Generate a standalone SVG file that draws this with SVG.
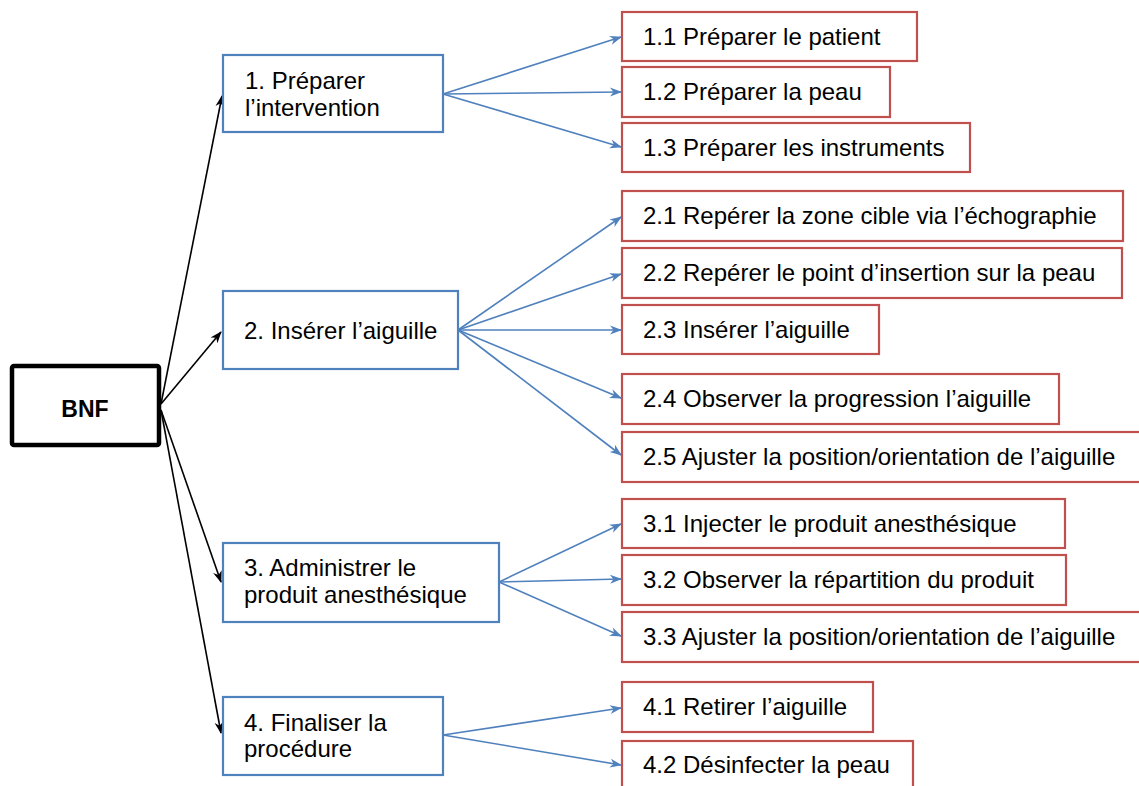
<svg xmlns="http://www.w3.org/2000/svg" width="1139" height="786" viewBox="0 0 1139 786">
<style>
text{font-family:"Liberation Sans",Arial,sans-serif;font-size:24px;fill:#000}
.bnf{font-weight:bold;font-size:23px}
.root{fill:#fff;stroke:#000;stroke-width:4.5}
.par{fill:#fff;stroke:#4F81BD;stroke-width:2.2}
.ch{fill:#fff;stroke:#C0504D;stroke-width:2.2}
.k{stroke:#000;stroke-width:1.6;fill:none;marker-end:url(#ak)}
.b{stroke:#4F81BD;stroke-width:1.6;fill:none;marker-end:url(#ab)}
</style>
<defs>
<marker id="ak" viewBox="0 0 12 10" refX="11" refY="5" markerWidth="12" markerHeight="10" markerUnits="userSpaceOnUse" orient="auto">
<path d="M0,0.5 L12,5 L0,9.5 L3.5,5 z" fill="#000"/>
</marker>
<marker id="ab" viewBox="0 0 12 10" refX="11" refY="5" markerWidth="13" markerHeight="10" markerUnits="userSpaceOnUse" orient="auto">
<path d="M0,0.5 L12,5 L0,9.5 L3.5,5 z" fill="#4F81BD"/>
</marker>
</defs>
<rect width="1139" height="786" fill="#fff"/>
<g id="connectors">
<line class="k" x1="161" y1="404" x2="222" y2="96"/>
<line class="k" x1="161" y1="404" x2="221" y2="332"/>
<line class="k" x1="161" y1="410" x2="221" y2="582"/>
<line class="k" x1="161" y1="410" x2="221" y2="733"/>
<line class="b" x1="443" y1="94" x2="621" y2="37"/>
<line class="b" x1="443" y1="94" x2="621" y2="92"/>
<line class="b" x1="443" y1="94" x2="621" y2="147"/>
<line class="b" x1="458" y1="330" x2="621" y2="217"/>
<line class="b" x1="458" y1="330" x2="621" y2="274"/>
<line class="b" x1="458" y1="330" x2="621" y2="330"/>
<line class="b" x1="458" y1="330" x2="621" y2="398"/>
<line class="b" x1="458" y1="330" x2="621" y2="455"/>
<line class="b" x1="499" y1="582" x2="621" y2="524"/>
<line class="b" x1="499" y1="582" x2="621" y2="579"/>
<line class="b" x1="499" y1="582" x2="621" y2="636"/>
<line class="b" x1="443" y1="735" x2="621" y2="708"/>
<line class="b" x1="443" y1="735" x2="621" y2="765"/>
</g>
<g id="bnf"><rect class="root" x="12" y="366" width="147" height="79" rx="2"/><text class="bnf" x="85" y="417" text-anchor="middle">BNF</text></g>
<g id="p1"><rect class="par" x="223" y="55" width="220" height="77"/><text x="245" y="89">1. Préparer</text><text x="245" y="116">l’intervention</text></g>
<g id="p2"><rect class="par" x="223" y="291" width="235" height="78"/><text x="244" y="339">2. Insérer l’aiguille</text></g>
<g id="p3"><rect class="par" x="223" y="543" width="276" height="79"/><text x="244" y="576">3. Administrer le</text><text x="244" y="603">produit anesthésique</text></g>
<g id="p4"><rect class="par" x="223" y="697" width="220" height="78"/><text x="244" y="731">4. Finaliser la</text><text x="244" y="757">procédure</text></g>
<g id="c11"><rect class="ch" x="622" y="12" width="295" height="49"/><text x="643" y="45">1.1 Préparer le patient</text></g>
<g id="c12"><rect class="ch" x="622" y="67" width="268" height="50"/><text x="643" y="100">1.2 Préparer la peau</text></g>
<g id="c13"><rect class="ch" x="622" y="123" width="348" height="49"/><text x="643" y="156">1.3 Préparer les instruments</text></g>
<g id="c21"><rect class="ch" x="622" y="191" width="501" height="50"/><text x="643" y="224">2.1 Repérer la zone cible via l’échographie</text></g>
<g id="c22"><rect class="ch" x="622" y="248" width="500" height="50"/><text x="643" y="281">2.2 Repérer le point d’insertion sur la peau</text></g>
<g id="c23"><rect class="ch" x="622" y="305" width="257" height="49"/><text x="643" y="338">2.3 Insérer l’aiguille</text></g>
<g id="c24"><rect class="ch" x="622" y="374" width="437" height="50"/><text x="643" y="407">2.4 Observer la progression l’aiguille</text></g>
<g id="c25"><rect class="ch" x="622" y="432" width="530" height="50"/><text x="643" y="465">2.5 Ajuster la position/orientation de l’aiguille</text></g>
<g id="c31"><rect class="ch" x="622" y="499" width="443" height="49"/><text x="643" y="532">3.1 Injecter le produit anesthésique</text></g>
<g id="c32"><rect class="ch" x="622" y="555" width="444" height="50"/><text x="643" y="588">3.2 Observer la répartition du produit</text></g>
<g id="c33"><rect class="ch" x="622" y="612" width="530" height="50"/><text x="643" y="645">3.3 Ajuster la position/orientation de l’aiguille</text></g>
<g id="c41"><rect class="ch" x="622" y="682" width="251" height="50"/><text x="643" y="715">4.1 Retirer l’aiguille</text></g>
<g id="c42"><rect class="ch" x="622" y="741" width="291" height="60"/><text x="643" y="773">4.2 Désinfecter la peau</text></g>
</svg>
